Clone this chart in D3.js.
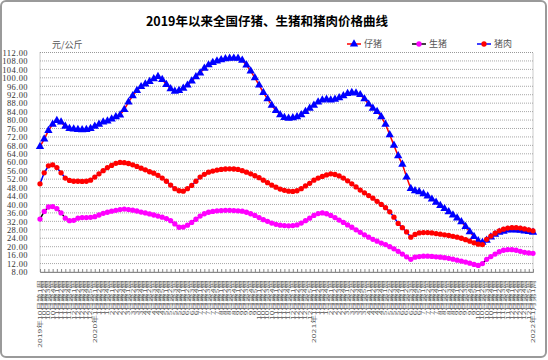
<!DOCTYPE html>
<html><head><meta charset="utf-8">
<script src="https://cdn.jsdelivr.net/npm/d3@7"></script>
<style>body{margin:0;background:#fff}svg{display:block}</style>
</head><body><svg id="c" width="548" height="360"></svg>
<script>
const categories=[
"2019年10月第1周","10月第2周","10月第3周","10月第4周","11月第1周","11月第2周","11月第3周","11月第4周","12月第1周","12月第2周","12月第3周","12月第4周","12月第5周",
"2020年1月第1周","1月第2周","1月第3周","1月第4周","2月第1周","2月第2周","2月第3周","2月第4周","3月第1周","3月第2周","3月第3周","3月第4周",
"4月第1周","4月第2周","4月第3周","4月第4周","4月第5周","5月第1周","5月第2周","5月第3周","5月第4周","6月第1周","6月第2周","6月第3周","6月第4周",
"7月第1周","7月第2周","7月第3周","7月第4周","7月第5周","8月第1周","8月第2周","8月第3周","8月第4周","9月第1周","9月第2周","9月第3周","9月第4周","9月第5周",
"10月第1周","10月第2周","10月第3周","10月第4周","11月第1周","11月第2周","11月第3周","11月第4周","12月第1周","12月第2周","12月第3周","12月第4周","12月第5周",
"2021年1月第1周","1月第2周","1月第3周","1月第4周","2月第1周","2月第2周","2月第3周","2月第4周","3月第1周","3月第2周","3月第3周","3月第4周","3月第5周",
"4月第1周","4月第2周","4月第3周","4月第4周","5月第1周","5月第2周","5月第3周","5月第4周","6月第1周","6月第2周","6月第3周","6月第4周","6月第5周",
"7月第1周","7月第2周","7月第3周","7月第4周","8月第1周","8月第2周","8月第3周","8月第4周","9月第1周","9月第2周","9月第3周","9月第4周","9月第5周",
"10月第1周","10月第2周","10月第3周","10月第4周","11月第1周","11月第2周","11月第3周","11月第4周","12月第1周","12月第2周","12月第3周","12月第4周","12月第5周",
"2022年1月第1周"];
const piglet=[67.4,71,75,78,79.7,79,77,76,75.7,75.5,
75.4,75.5,76,77,78,79,79.5,80.5,81.5,82.4,
85,88.5,91.5,94,95.8,97,98.2,99.5,100.6,99.2,
96.8,94.8,93.6,94,95,96.5,98.5,100.5,102.3,104.5,
106.1,107.2,107.9,108.5,109,109.2,109.3,109.2,108.3,106,
103.2,100,96.5,93,90,87,84.5,82.5,81.2,80.8,
81,81.5,82.5,84,85.5,87,88.5,89.5,89.8,89.5,
89.8,90.5,91.5,92.5,93,92.8,92,90,87.5,85.5,
84,81.5,78,73,68,63,59,53,47.5,46.5,
46,45,44,42.5,41,39.5,38,36.5,35,33.5,
31.8,29.5,27,24.8,22.8,22,23,24.5,25.8,26.8,
27.3,27.8,28,27.9,27.7,27.4,27.1,26.8];
const hog=[33.1,36.7,38.8,39,38,36,33.5,32.3,32.5,33.5,
33.8,33.8,33.9,34.2,35,35.8,36.3,36.8,37.2,37.6,
37.8,37.6,37.3,36.9,36.4,36,35.5,35,34.5,34,
33.3,32.3,30.8,29.2,29.3,30.2,31.5,33,34.5,35.6,
36.3,36.7,37,37.1,37.2,37.2,37.1,37,36.8,36.3,
35.6,34.8,33.8,32.8,32,31.2,30.6,30.2,30,29.9,
30,30.3,31.2,32.3,33.5,34.8,35.7,36,35.6,34.8,
33.8,32.6,31.5,30.3,29.2,28,26.8,25.6,24.5,23.5,
22.6,21.7,21,20,19,17.8,16.5,15.2,14,15,
15.3,15.5,15.5,15.4,15.2,15,14.8,14.5,14.1,13.6,
13.2,12.7,12.2,11.6,11.1,12,14,15.3,16.5,17.6,
18.3,18.6,18.6,18.3,17.8,17.3,17,16.8];
const pork=[49.8,55,58.3,58.8,57.5,55,52.5,51.4,51,51,
50.9,51,51.5,53,54.5,56,57.5,58.5,59.5,59.9,
59.8,59.4,58.8,58,57.2,56.4,55.5,54.8,53.8,52.5,
51,49.2,47.5,46.5,46.3,47.5,49,51,53,54.3,
55.3,55.8,56.3,56.6,56.8,56.9,56.8,56.6,56,55.3,
54.5,53.6,52.7,51.5,50.3,49.2,48.2,47.3,46.7,46.3,
46.2,46.5,47.5,48.8,50,51.5,52.5,53.3,54,54.5,
54.2,53.5,52.5,51.2,49.8,48.3,46.8,45.5,44.2,43,
41.5,40,38.5,36.5,34,31,29,27,24.5,25.8,
26.5,26.7,26.7,26.5,26.2,25.9,25.6,25.3,24.9,24.5,
24,23.3,22.6,21.8,21.2,21,23.5,25,26.4,27.5,
28.3,28.8,29,29,28.8,28.4,28,27.5];
const seriesNames=["仔猪","生猪","猪肉"];
const yTickValues=[8,12,16,20,24,28,32,36,40,44,48,52,56,60,64,68,72,76,80,84,88,92,96,100,104,108,112];
const title="2019年以来全国仔猪、生猪和猪肉价格曲线";
const unitLabel="元/公斤";

const svg=d3.select("#c");
const L=40,R=533,T=52.5,B=272;
svg.append("rect").attr("x",1).attr("y",1).attr("width",545).attr("height",356).attr("rx",5)
  .attr("fill","#fff").attr("stroke","#9a9a9a").attr("stroke-width",2);

const idx=categories.map((c,i)=>i);
const x=d3.scalePoint().domain(idx).range([L,R]);
const y=d3.scaleLinear().domain([8,112]).range([B,T]);

// grid
svg.append("g").selectAll("line").data(yTickValues.filter(v=>v>8&&v<112)).join("line")
  .attr("x1",L).attr("x2",R).attr("y1",d=>y(d)).attr("y2",d=>y(d))
  .attr("stroke","#a8a8a8").attr("stroke-dasharray","1,1");
svg.append("rect").attr("x",L).attr("y",T).attr("width",R-L).attr("height",B-T)
  .attr("fill","none").attr("stroke","#999").attr("stroke-dasharray","1,1");

// y axis
const ya=svg.append("g").attr("transform",`translate(${L},0)`)
  .call(d3.axisLeft(y).tickValues(yTickValues).tickFormat(d3.format(".2f")).tickSize(0).tickPadding(12));
ya.select(".domain").remove();
ya.selectAll("text").attr("font-family","'Liberation Serif',serif").attr("font-size",8.5)
  .attr("letter-spacing","0.4").attr("fill","#333");

// x axis ticks and labels
const xa=svg.append("g").attr("transform",`translate(0,${B})`)
  .call(d3.axisBottom(x).tickSize(-3).tickFormat(""));
xa.select(".domain").attr("stroke","#888");
xa.selectAll("line").attr("stroke","#888");
svg.append("g").selectAll("text").data(idx).join("text")
  .attr("transform",i=>`translate(${x(i)},280) rotate(-90) scale(1,0.62)`)
  .attr("text-anchor","end").attr("dy","0.35em")
  .attr("font-family","'Noto Sans CJK SC',sans-serif").attr("font-size",8.6).attr("fill","#555")
  .text(i=>categories[i]);

// series
const defs=[
 {name:seriesNames[0],data:piglet,line:"#ff0000",mark:"#0000ff",sym:d3.symbolTriangle,size:30},
 {name:seriesNames[1],data:hog,line:"#000000",mark:"#ff00ff",sym:d3.symbolCircle,size:22},
 {name:seriesNames[2],data:pork,line:"#0000ff",mark:"#ff0000",sym:d3.symbolCircle,size:22}
];
defs.forEach(s=>{
  const g=svg.append("g");
  g.append("path").datum(s.data)
   .attr("d",d3.line().x((d,i)=>x(i)).y(d=>y(d)))
   .attr("fill","none").attr("stroke",s.line).attr("stroke-width",1.5);
  g.selectAll("path.m").data(s.data).join("path").attr("class","m")
   .attr("transform",(d,i)=>`translate(${x(i)},${y(d)})`)
   .attr("d",d3.symbol(s.sym,s.size)).attr("fill",s.mark);
});

// title & unit
svg.append("text").attr("x",267).attr("y",26).attr("text-anchor","middle")
  .attr("font-family","'Noto Sans CJK SC',sans-serif").attr("font-weight","bold").attr("font-size",12.5).attr("fill","#000")
  .text(title);
svg.append("text").attr("x",52).attr("y",47.5).attr("font-family","'Noto Sans CJK SC',sans-serif")
  .attr("font-size",9).attr("fill","#555").text(unitLabel);

// legend
const legX=[347,412,477];
defs.forEach((s,i)=>{
  const g=svg.append("g").attr("transform",`translate(${legX[i]},44)`);
  g.append("line").attr("x1",0).attr("x2",14).attr("stroke",s.line).attr("stroke-width",1.5);
  g.append("path").attr("transform","translate(7,0)").attr("d",d3.symbol(s.sym,s.size)).attr("fill",s.mark);
  g.append("text").attr("x",17).attr("dy","0.35em").attr("font-family","'Noto Sans CJK SC',sans-serif")
   .attr("font-size",9).attr("fill","#555").text(s.name);
});
</script></body></html>
